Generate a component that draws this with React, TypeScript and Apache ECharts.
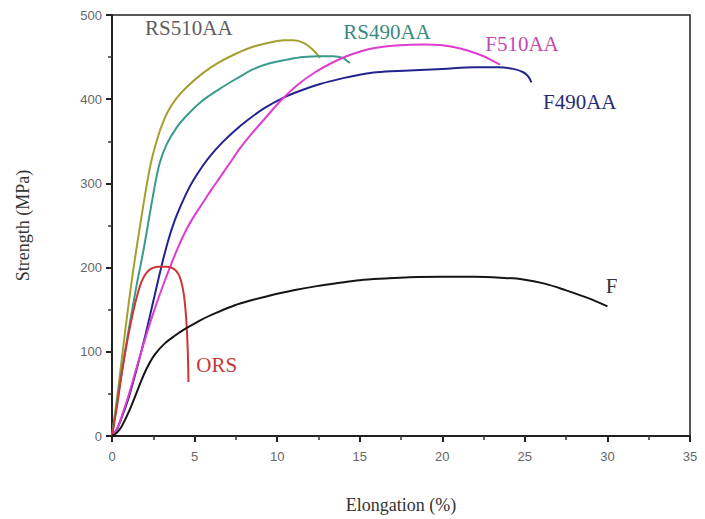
import React, { useEffect, useRef } from "react";
import * as echarts from "echarts";

const xTicks = [0, 5, 10, 15, 20, 25, 30, 35];
const yTicks = [0, 100, 200, 300, 400, 500];

const rs510aa: [number, number][] = [
  [0, 0], [0.4, 60], [0.8, 125], [1.2, 185], [1.5, 225], [1.8, 262], [2.1, 298], [2.4, 328],
  [2.7, 350], [3.0, 368], [3.4, 386], [3.9, 401], [4.5, 414], [5.5, 431], [6.5, 444],
  [7.5, 454], [8.5, 462], [9.5, 467], [10.4, 470], [11.0, 470], [11.6, 467], [12.1, 460], [12.6, 449],
];
const rs490aa: [number, number][] = [
  [0, 0], [0.5, 65], [1.0, 125], [1.5, 180], [1.9, 220], [2.3, 265], [2.6, 298], [2.9, 325],
  [3.3, 346], [3.9, 366], [4.5, 380], [5.4, 397], [6.5, 412], [7.5, 424], [8.6, 436],
  [9.6, 443], [10.6, 447], [11.6, 450], [12.6, 451], [13.4, 451], [14.0, 449], [14.2, 446], [14.4, 443],
];
const f490aa: [number, number][] = [
  [0, 0], [0.3, 8], [0.7, 28], [1.0, 45], [1.5, 80], [2.0, 118], [2.5, 160], [3.0, 202],
  [3.4, 232], [3.8, 256], [4.2, 275], [4.6, 292], [5.0, 306], [5.5, 321], [6.0, 334],
  [6.7, 349], [7.4, 362], [8.2, 375], [9.2, 389], [10.3, 401], [11.4, 410], [12.6, 418],
  [14, 425], [15, 429], [16, 432], [18, 434], [20, 436], [22, 438], [23.4, 438], [24.3, 436],
  [24.9, 432], [25.2, 427], [25.4, 420],
];
const f510aa: [number, number][] = [
  [0, 0], [0.3, 8], [0.7, 30], [1.0, 48], [1.5, 82], [2.0, 115], [2.5, 146], [3.0, 174],
  [3.5, 200], [4.0, 224], [4.5, 245], [5.0, 262], [5.5, 277], [6.0, 292], [6.6, 309],
  [7.2, 326], [7.8, 343], [8.5, 360], [9.3, 378], [10.3, 400], [11.3, 418], [12.3, 432],
  [13.3, 443], [14.2, 451], [15.1, 457], [16.0, 461], [17.4, 464], [18.9, 465], [20, 464],
  [20.9, 461], [21.8, 456], [22.5, 451], [23, 446], [23.5, 441],
];
const ors: [number, number][] = [
  [0, 0], [0.3, 35], [0.6, 75], [0.9, 110], [1.2, 140], [1.5, 165], [1.8, 184], [2.1, 194],
  [2.4, 199], [2.8, 201], [3.3, 201], [3.7, 199], [4.0, 193], [4.2, 183], [4.35, 168],
  [4.45, 150], [4.53, 128], [4.58, 105], [4.61, 85], [4.63, 64],
];
const fCurve: [number, number][] = [
  [0, 0], [0.3, 4], [0.6, 12], [1.0, 28], [1.4, 47], [1.8, 67], [2.2, 84], [2.6, 97],
  [3.2, 110], [3.8, 119], [4.5, 128], [5.4, 138], [6.4, 147], [7.4, 155], [8.4, 161],
  [9.4, 166], [11, 173], [12.4, 178], [13.8, 182], [15, 185], [16.5, 187], [18, 188.5],
  [20, 189], [22, 189], [23.5, 188], [24.9, 186], [26.2, 181], [27.5, 173], [28.8, 164], [30, 154],
];

const seriesNames = ["RS510AA", "RS490AA", "F490AA", "F510AA", "ORS", "F"];
const seriesData = [rs510aa, rs490aa, f490aa, f510aa, ors, fCurve];
const lineColors = ["#a3a030", "#3a9a8c", "#23238f", "#e03cd0", "#d03434", "#151515"];

const labelTexts = ["RS510AA", "RS490AA", "F510AA", "F490AA", "F", "ORS"];
const labelX = [2.0, 14.0, 22.6, 26.1, 29.9, 5.1];
const labelY = [485, 480, 465, 397, 178, 84];
const labelColors = ["#5e5e5e", "#3b8a80", "#c04cb0", "#2a2a78", "#333333", "#c43a3a"];

export default function App() {
  const ref = useRef<HTMLDivElement>(null);
  useEffect(() => {
    if (!ref.current) return;
    const chart = echarts.init(ref.current, undefined, { renderer: "svg" });
    const serif = "'Liberation Serif', 'Times New Roman', serif";
    const sans = "'Liberation Sans', Arial, sans-serif";
    chart.setOption({
      animation: false,
      backgroundColor: "#ffffff",
      grid: {
        left: 112, right: 15, top: 15, bottom: 77,
        show: true, borderColor: "#222", borderWidth: 1.5, backgroundColor: "transparent",
      },
      xAxis: {
        type: "value", min: xTicks[0], max: xTicks[xTicks.length - 1], interval: 5,
        name: "Elongation (%)", nameLocation: "middle", nameGap: 60,
        nameTextStyle: { fontFamily: serif, fontSize: 18, color: "#333" },
        axisLine: { lineStyle: { color: "#222", width: 2 } },
        axisTick: { inside: false, length: 6, lineStyle: { color: "#222", width: 2 } },
        minorTick: { show: true, splitNumber: 2, length: 4, lineStyle: { color: "#333", width: 1.5 } },
        axisLabel: { color: "#666", fontSize: 13, margin: 14, fontFamily: sans },
        splitLine: { show: false },
      },
      yAxis: {
        type: "value", min: yTicks[0], max: yTicks[yTicks.length - 1], interval: 100,
        name: "Strength (MPa)", nameLocation: "middle", nameGap: 80, nameRotate: 90,
        nameTextStyle: { fontFamily: serif, fontSize: 18, color: "#333" },
        axisLine: { lineStyle: { color: "#222", width: 2 } },
        axisTick: { inside: false, length: 6, lineStyle: { color: "#222", width: 2 } },
        minorTick: { show: true, splitNumber: 2, length: 4, lineStyle: { color: "#333", width: 1.5 } },
        axisLabel: { color: "#666", fontSize: 13, margin: 10, fontFamily: sans },
        splitLine: { show: false },
      },
      series: seriesNames.map((n, i) => ({
        name: n,
        type: "line",
        data: seriesData[i],
        smooth: 0.35,
        showSymbol: false,
        symbol: "none",
        lineStyle: { color: lineColors[i], width: 2 },
        z: 3,
      })),
    });
    const graphics = labelTexts.map((t, i) => {
      const p = chart.convertToPixel({ gridIndex: 0 }, [labelX[i], labelY[i]]) as number[];
      return {
        type: "text",
        x: p[0],
        y: p[1],
        style: {
          text: t,
          fill: labelColors[i],
          font: `21px ${serif}`,
          textAlign: "left",
          textVerticalAlign: "middle",
        },
      };
    });
    chart.setOption({ graphic: graphics });
    return () => chart.dispose();
  }, []);
  return (
    <div
      ref={ref}
      style={{ position: "fixed", left: 0, top: 0, width: 705, height: 519, background: "#fff" }}
    />
  );
}
